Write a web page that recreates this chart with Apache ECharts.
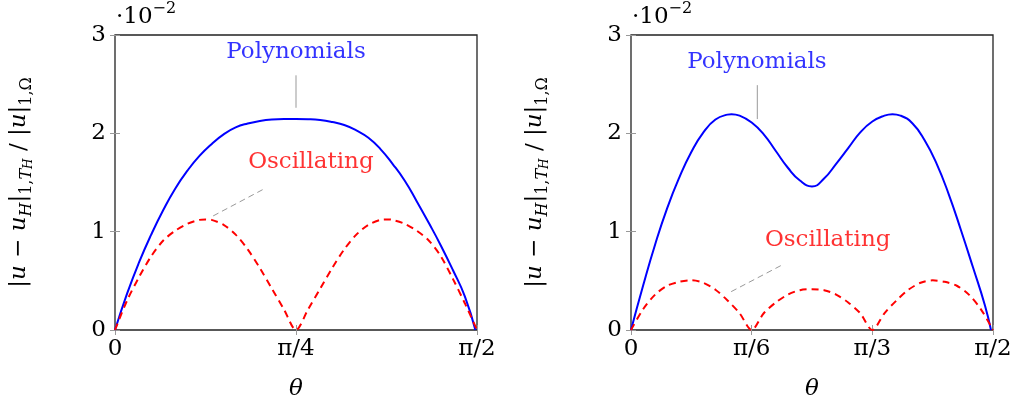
<!DOCTYPE html>
<html>
<head>
<meta charset="utf-8">
<script src="https://cdn.jsdelivr.net/npm/echarts@6/dist/echarts.min.js"></script>
<style>
  html, body { margin: 0; padding: 0; background: #fff; }
  #main { width: 1016px; height: 406px; }
</style>
</head>
<body>
<div id="main"></div>
<script>
// theta in degrees (0..90 = 0..pi/2), values in units of 1e-2
var leftPolyTheta = [0, 3, 6, 9, 12, 15, 18, 21, 24, 27, 30, 33, 36, 39, 42, 45, 48, 51, 54, 57, 60, 63, 66, 69, 72, 75, 78, 81, 84, 87, 89.6];
var leftPolyVal   = [0, 0.37, 0.69, 0.97, 1.22, 1.44, 1.62, 1.77, 1.89, 1.99, 2.06, 2.10, 2.125, 2.14, 2.145, 2.145, 2.143, 2.135, 2.115, 2.085, 2.03, 1.955, 1.84, 1.69, 1.52, 1.31, 1.09, 0.86, 0.61, 0.34, 0];
var leftOscTheta  = [0, 3, 6, 9, 12, 15, 18, 21, 22.5, 24, 27, 30, 33, 36, 39, 42, 45, 48, 51, 54, 57, 60, 63, 66, 67.5, 69, 72, 75, 78, 81, 84, 87, 90];
var leftOscVal    = [0, 0.30, 0.54, 0.75, 0.91, 1.01, 1.08, 1.12, 1.125, 1.12, 1.07, 0.97, 0.82, 0.63, 0.42, 0.21, 0, 0.21, 0.42, 0.63, 0.82, 0.97, 1.07, 1.12, 1.125, 1.12, 1.08, 1.01, 0.91, 0.75, 0.52, 0.27, 0];

var rightPolyTheta = [0, 3, 6, 9, 12, 15, 18, 21, 24, 25, 27, 30, 33, 36, 39, 42, 45, 48, 51, 54, 57, 60, 63, 65, 67, 70, 73, 76, 79, 82, 85, 88, 89.5];
var rightPolyVal   = [0, 0.45, 0.87, 1.24, 1.55, 1.81, 2.01, 2.14, 2.19, 2.195, 2.18, 2.11, 1.99, 1.82, 1.65, 1.52, 1.46, 1.54, 1.69, 1.85, 2.01, 2.12, 2.18, 2.195, 2.18, 2.10, 1.93, 1.69, 1.38, 1.02, 0.64, 0.25, 0];
var rightOscTheta  = [0, 3, 6, 9, 12, 15, 18, 21, 24, 27, 30, 33, 36, 39, 42, 45, 48, 51, 54, 57, 60, 63, 66, 69, 72, 75, 78, 81, 84, 87, 90];
var rightOscVal    = [0, 0.21, 0.36, 0.45, 0.49, 0.505, 0.48, 0.41, 0.30, 0.17, 0, 0.17, 0.28, 0.36, 0.405, 0.415, 0.405, 0.36, 0.28, 0.17, 0, 0.17, 0.30, 0.41, 0.48, 0.505, 0.49, 0.45, 0.36, 0.21, 0];

var leftTicks  = { 0: '0', 45: 'π/4', 90: 'π/2' };
var rightTicks = { 0: '0', 30: 'π/6', 60: 'π/3', 90: 'π/2' };

var SERIF = 'DejaVu Serif';
var BLUE = '#0000ff', RED = '#ff0000', PIN = '#999999';

var pairs = function(xs, ys) {
    return xs.map(function(x, i) { return [x, ys[i]]; });
};

var yName = '{m||}{i|u}{m| − }{i|u}{si|H}{m||}{s|1,}{si|T}{ss|H}{m| / |}{i|u}{m||}{s|1,Ω}';
var yRich = {
    m: { fontFamily: SERIF, fontSize: 23, color: '#000', lineHeight: 32 },
    i: { fontFamily: SERIF, fontSize: 23, fontStyle: 'italic', color: '#000', lineHeight: 32 },
    s: { fontFamily: SERIF, fontSize: 16, color: '#000', verticalAlign: 'bottom', lineHeight: 19 },
    si: { fontFamily: SERIF, fontSize: 16, fontStyle: 'italic', color: '#000', verticalAlign: 'bottom', lineHeight: 19 },
    ss: { fontFamily: SERIF, fontSize: 12, fontStyle: 'italic', color: '#000', verticalAlign: 'bottom', lineHeight: 12 }
};

var makeX = function(idx, ticks, interval) {
    return [{
        gridIndex: idx, type: 'value', min: 0, max: 90, interval: interval,
        position: 'bottom',
        axisLine: { show: false },
        axisTick: { show: true, inside: true, length: 5, lineStyle: { color: PIN } },
        splitLine: { show: false },
        axisLabel: {
            fontFamily: SERIF, fontSize: 23, color: '#000', margin: 8,
            formatter: function(v) { return ticks[v] || ''; }
        },
        name: 'θ', nameLocation: 'middle', nameGap: 48,
        nameTextStyle: { fontFamily: SERIF, fontSize: 23, fontStyle: 'italic', color: '#000' }
    }, {
        gridIndex: idx, type: 'value', min: 0, max: 90, interval: interval,
        position: 'top',
        axisLine: { show: false },
        axisTick: { show: true, inside: true, length: 5, lineStyle: { color: PIN } },
        splitLine: { show: false },
        axisLabel: { show: false }
    }];
};

var makeY = function(idx) {
    return [{
        gridIndex: idx, type: 'value', min: 0, max: 3, interval: 1,
        position: 'left',
        axisLine: { show: false },
        axisTick: { show: true, inside: true, length: 5, lineStyle: { color: PIN } },
        splitLine: { show: false },
        axisLabel: { fontFamily: SERIF, fontSize: 23, color: '#000', margin: 9 },
        name: yName, nameLocation: 'middle', nameGap: 80, nameRotate: 90,
        nameTextStyle: { rich: yRich }
    }, {
        gridIndex: idx, type: 'value', min: 0, max: 3, interval: 1,
        position: 'right',
        axisLine: { show: false },
        axisTick: { show: true, inside: true, length: 5, lineStyle: { color: PIN } },
        splitLine: { show: false },
        axisLabel: { show: false }
    }];
};

// annotation layout (data coordinates of each plot)
var notes = [
    { g: 0, text: 'Polynomials', color: BLUE, at: [45, 2.83], pin: [[45, 2.26], [45, 2.59]], dash: false },
    { g: 0, text: 'Oscillating', color: RED, at: [48.7, 1.71], pin: [[24.4, 1.16], [37.3, 1.44]], dash: true },
    { g: 1, text: 'Polynomials', color: BLUE, at: [31.3, 2.73], pin: [[31.4, 2.145], [31.4, 2.49]], dash: false },
    { g: 1, text: 'Oscillating', color: RED, at: [48.9, 0.92], pin: [[24.9, 0.39], [37.5, 0.66]], dash: true }
];

var lineSeries = function(idx, data, color, dashed) {
    return {
        type: 'line', xAxisIndex: idx * 2, yAxisIndex: idx * 2,
        data: data, showSymbol: false, smooth: dashed ? 0.3 : 0.5, smoothMonotone: 'none', silent: true,
        lineStyle: { color: color, width: 2, type: dashed ? [7, 5] : 'solid' },
        z: 3
    };
};

var series = [
    lineSeries(0, pairs(leftPolyTheta, leftPolyVal), BLUE, false),
    lineSeries(0, pairs(leftOscTheta, leftOscVal), RED, true),
    lineSeries(1, pairs(rightPolyTheta, rightPolyVal), BLUE, false),
    lineSeries(1, pairs(rightOscTheta, rightOscVal), RED, true)
];

notes.forEach(function(n) {
    series.push({
        type: 'line', xAxisIndex: n.g * 2, yAxisIndex: n.g * 2,
        data: n.pin, showSymbol: false, silent: true,
        lineStyle: { color: PIN, width: 1, type: n.dash ? [6, 4] : 'solid' },
        z: 2
    });
    series.push({
        type: 'scatter', xAxisIndex: n.g * 2, yAxisIndex: n.g * 2,
        data: [n.at], symbolSize: 1, itemStyle: { color: 'rgba(0,0,0,0)' }, silent: true,
        label: {
            show: true, position: 'inside', formatter: n.text,
            fontFamily: SERIF, fontSize: 23, color: n.color
        },
        z: 4
    });
});

var expLabel = function(left) {
    return {
        type: 'text', left: left, top: 1,
        style: {
            text: '{a|·10}{b|−2}',
            rich: {
                a: { fontFamily: SERIF, fontSize: 23, fill: '#000', lineHeight: 28, verticalAlign: 'bottom' },
                b: { fontFamily: SERIF, fontSize: 16, fill: '#000', lineHeight: 18, verticalAlign: 'top' }
            }
        }
    };
};

var grids = [
    { left: 115, top: 35, width: 362, height: 297, show: true, borderColor: '#222', borderWidth: 1.3, backgroundColor: 'transparent' },
    { left: 631, top: 35, width: 362, height: 297, show: true, borderColor: '#222', borderWidth: 1.3, backgroundColor: 'transparent' }
];

var chart = echarts.init(document.getElementById('main'), null, { renderer: 'canvas' });
chart.setOption({
    animation: false,
    backgroundColor: '#fff',
    grid: grids,
    xAxis: makeX(0, leftTicks, 45).concat(makeX(1, rightTicks, 30)),
    yAxis: makeY(0).concat(makeY(1)),
    series: series,
    graphic: [expLabel(116), expLabel(632)]
});
</script>
</body>
</html>
